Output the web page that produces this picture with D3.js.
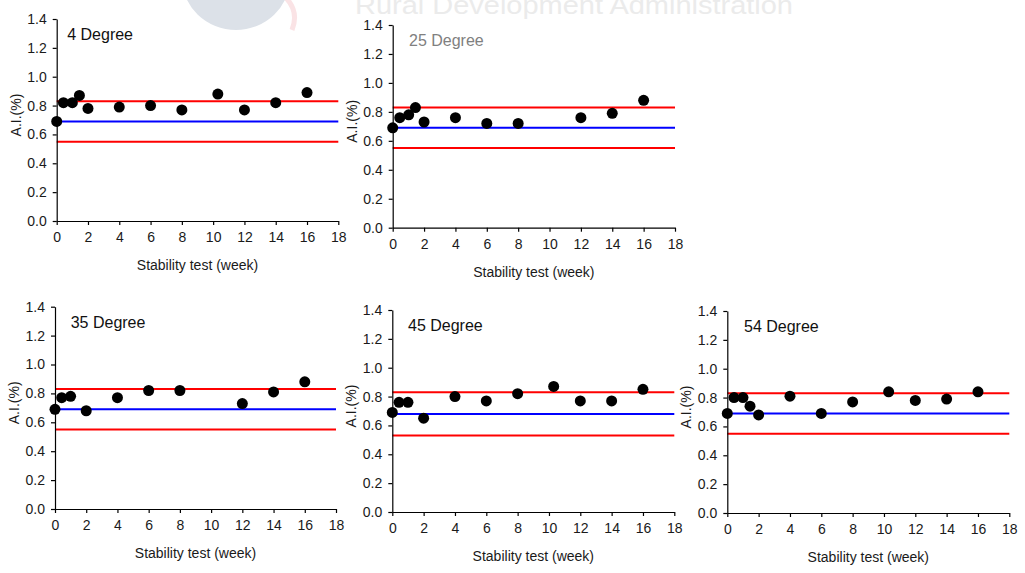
<!DOCTYPE html>
<html>
<head>
<meta charset="utf-8">
<script src="https://cdn.jsdelivr.net/npm/d3@7"></script>
<style>
  html, body { margin: 0; padding: 0; background: #fff; }
  svg { display: block; }
  text { font-family: "Liberation Sans", Arial, sans-serif; }
</style>
</head>
<body>
<svg id="chart" width="1025" height="573"></svg>
<script>
// ---------- DATA ----------
const xTicks = [0, 2, 4, 6, 8, 10, 12, 14, 16, 18];
const yTicks = [0.0, 0.2, 0.4, 0.6, 0.8, 1.0, 1.2, 1.4];
const panelTitles = ["4 Degree", "25 Degree", "35 Degree", "45 Degree", "54 Degree"];

const weeks4  = [0, 0.43, 1.0, 1.45, 2, 4, 6, 8, 10.3, 12, 14, 16];
const ai4     = [0.69, 0.82, 0.82, 0.87, 0.78, 0.79, 0.80, 0.77, 0.88, 0.77, 0.82, 0.89];

const weeks25 = [0, 0.45, 1.02, 1.45, 2, 4, 6, 8, 12, 14, 16];
const ai25    = [0.69, 0.76, 0.78, 0.83, 0.73, 0.76, 0.72, 0.72, 0.76, 0.79, 0.88];

const weeks35 = [0, 0.43, 1.0, 2, 4, 6, 8, 12, 14, 16];
const ai35    = [0.69, 0.77, 0.78, 0.68, 0.77, 0.82, 0.82, 0.73, 0.81, 0.88];

const weeks45 = [0, 0.43, 1.0, 2, 4, 6, 8, 10.3, 12, 14, 16];
const ai45    = [0.69, 0.76, 0.76, 0.65, 0.80, 0.77, 0.82, 0.87, 0.77, 0.77, 0.85];

const weeks54 = [0, 0.43, 1.0, 1.45, 2, 4, 6, 8, 10.3, 12, 14, 16];
const ai54    = [0.69, 0.80, 0.80, 0.74, 0.68, 0.81, 0.69, 0.77, 0.84, 0.78, 0.79, 0.84];

// control limits per panel
const upperLimits = [0.83, 0.83, 0.83, 0.83, 0.83];
const meanLines   = [0.69, 0.69, 0.69, 0.68, 0.69];
const lowerLimits = [0.55, 0.55, 0.55, 0.53, 0.55];

const seriesWeeks = [weeks4, weeks25, weeks35, weeks45, weeks54];
const seriesAI    = [ai4, ai25, ai35, ai45, ai54];

// ---------- LAYOUT ----------
const panels = [
  { x0: 56.7,  x1: 338.3,  yTop: 19,    yBot: 221,   tdx: 10.5, titleColor: "#111" },
  { x0: 392.7, x1: 675,    yTop: 25,    yBot: 227.7, tdx: 16.3, titleColor: "#808080" },
  { x0: 55,    x1: 336,    yTop: 306.7, yBot: 509,   tdx: 15.7, titleColor: "#111" },
  { x0: 392.3, x1: 674.3,  yTop: 310,   yBot: 512,   tdx: 15.7, titleColor: "#111" },
  { x0: 727.3, x1: 1009.3, yTop: 311,   yBot: 513,   tdx: 16.7, titleColor: "#111" }
];

const svg = d3.select("#chart");

// ---------- watermark ----------
const wm = svg.append("g");
wm.append("ellipse").attr("cx", 236).attr("cy", -22).attr("rx", 54).attr("ry", 52)
  .attr("fill", "#dce1e8");
wm.append("path")
  .attr("d", "M283,-5 Q300,10 292,30")
  .attr("fill", "none").attr("stroke", "#fae3e5").attr("stroke-width", 5);
wm.append("text").attr("x", 355).attr("y", 14)
  .attr("font-family", "'Open Sans', sans-serif").attr("font-size", 25)
  .attr("textLength", 438).attr("lengthAdjust", "spacingAndGlyphs")
  .attr("fill", "#ebebeb").text("Rural Development Administration");

// ---------- panels ----------
panels.forEach((p, i) => {
  const g = svg.append("g");
  const x = d3.scaleLinear().domain([0, 18]).range([p.x0, p.x1]);
  const y = d3.scaleLinear().domain([0, 1.4]).range([p.yBot, p.yTop]);

  const refs = [
    { v: upperLimits[i], c: "#ff0000" },
    { v: lowerLimits[i], c: "#ff0000" },
    { v: meanLines[i],   c: "#0000ff" }
  ];
  g.selectAll(".ref").data(refs).enter().append("line")
    .attr("x1", x(0)).attr("x2", x(18))
    .attr("y1", d => y(d.v)).attr("y2", d => y(d.v))
    .attr("stroke", d => d.c).attr("stroke-width", 2);

  const xAxis = d3.axisBottom(x).tickValues(xTicks).tickFormat(d3.format("d"))
    .tickSizeInner(4).tickSizeOuter(0).tickPadding(7);
  const yAxis = d3.axisLeft(y).tickValues(yTicks).tickFormat(d3.format(".1f"))
    .tickSizeInner(4).tickSizeOuter(0).tickPadding(6);

  const gx = g.append("g").attr("transform", `translate(0,${p.yBot})`).call(xAxis);
  const gy = g.append("g").attr("transform", `translate(${p.x0},0)`).call(yAxis);
  [gx, gy].forEach(a => {
    a.selectAll("path, line").attr("stroke", "#000").attr("stroke-width", 1.2);
    a.selectAll("text").attr("font-size", 14).attr("fill", "#1a1a1a")
      .attr("font-family", "'Liberation Sans', Arial, sans-serif");
  });

  g.append("text").attr("x", (p.x0 + p.x1) / 2).attr("y", p.yBot + 49)
    .attr("text-anchor", "middle").attr("font-size", 14).attr("fill", "#1a1a1a")
    .text("Stability test (week)");
  g.append("text")
    .attr("transform", `translate(${p.x0 - 36},${(p.yTop + p.yBot) / 2 - 5}) rotate(-90)`)
    .attr("text-anchor", "middle").attr("font-size", 14).attr("fill", "#1a1a1a")
    .text("A.I.(%)");

  g.append("text").attr("x", p.x0 + p.tdx).attr("y", p.yTop + 21)
    .attr("font-size", 16).attr("fill", p.titleColor).text(panelTitles[i]);

  const pts = seriesWeeks[i].map((w, k) => ({ w, v: seriesAI[i][k] }));
  g.selectAll(".pt").data(pts).enter().append("circle")
    .attr("cx", d => x(d.w)).attr("cy", d => y(d.v)).attr("r", 5.5)
    .attr("fill", "#000");
});
</script>
</body>
</html>
